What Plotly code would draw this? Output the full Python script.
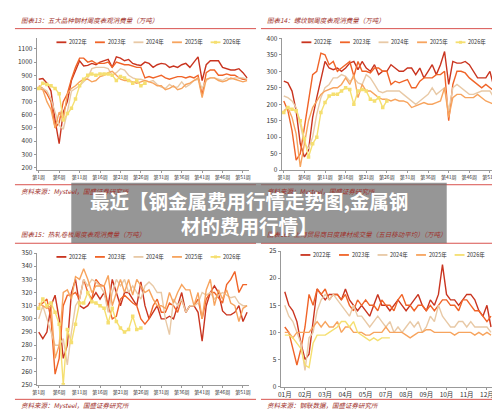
import plotly.graph_objects as go

years = ["2022年", "2023年", "2024年", "2025年", "2026年"]
colors = ["#c9341f", "#f06428", "#e8c9a6", "#f7a45e", "#f5df70"]

weeks = list(range(1, 53))
week_ticks = [1, 6, 11, 16, 21, 26, 31, 36, 41, 46, 51]
week_labels = ["第%d周" % w for w in week_ticks]

# 图表13 五大品种
p13 = [
    [870, 875, 840, 780, 560, 380, 620, 700, 860, 940, 1010, 970, 975, 990, 980, 1000, 1010, 1020, 960, 1040, 1030, 1010, 1020, 990, 980, 975, 1000, 990, 960, 980, 990, 985, 960, 970, 960, 980, 990, 960, 1000, 1040, 860, 980, 1010, 1010, 1010, 960, 950, 940, 940, 950, 920, 880],
    [820, 800, 760, 700, 500, 540, 700, 760, 870, 960, 1030, 1030, 1000, 1010, 990, 990, 990, 1000, 960, 1000, 990, 980, 980, 970, 960, 960, 880, 890, 880, 890, 900, 880, 870, 880, 890, 890, 880, 890, 880, 900, 750, 920, 940, 940, 900, 900, 910, 900, 900, 880, 870, 870],
    [810, 800, 780, 720, 620, 520, 490, 620, 780, 800, 820, 850, 880, 950, 960, 960, 960, 950, 900, 920, 950, 940, 900, 880, 870, 870, 860, 850, 860, 830, 810, 800, 830, 810, 810, 850, 810, 830, 860, 870, 800, 860, 880, 880, 870, 860, 880, 870, 880, 880, 880, 870],
    [800, 790, 700, 640, 500, 620, 560, 760, 800, 820, 850, 870, 870, 850, 860, 890, 900, 920, 930, 900, 870, 860, 860, 850, 840, 850, 860, 850, 840, 820, 820, 790, 800, 820, 790, 800, 830, 840, 860, 880, 730, 870, 880, 880, 860, 850, 860, 880, 870, 860, 850, 860],
    [800, 840, 830, 820, 800, 760, 560, 610, 650, 720, 820, 870, 900, 910, 900, 910, 910, 910, 900, 860, 890, 880, 860, 840, 860, 820, 840],
]

# 图表14 螺纹钢
p14 = [
    [270, 265, 240, 180, 80, 40, 60, 160, 220, 280, 330, 310, 305, 310, 300, 310, 325, 330, 305, 330, 310, 300, 320, 290, 300, 300, 320, 310, 300, 300, 310, 310, 290, 310, 280, 300, 320, 290, 320, 360, 260, 330, 325, 325, 330, 320, 300, 280, 280, 280, 300, 250],
    [210, 180, 120, 30, 50, 130, 200, 290, 300, 355, 350, 320, 330, 300, 310, 320, 330, 285, 330, 300, 300, 295, 310, 310, 300, 300, 260, 270, 265, 270, 275, 250, 250, 270, 280, 280, 280, 290, 290, 300, 150, 260, 300, 300, 295, 280, 270, 260, 250, 260, 250, 240],
    [225, 220, 210, 190, 140, 80, 65, 100, 170, 220, 250, 260, 280, 280, 290, 285, 270, 280, 265, 260, 290, 280, 260, 240, 235, 240, 240, 240, 240, 230, 220, 210, 200, 210, 220, 230, 250, 230, 240, 250, 180, 250, 260, 250, 240, 230, 230, 235, 240, 240, 240, 220],
    [180, 190, 160, 110, 10, 80, 150, 190, 210, 230, 240, 245, 250, 250, 260, 280, 260, 290, 220, 260, 240, 240, 230, 220, 215, 215, 210, 215, 210, 210, 205, 190, 195, 200, 205, 200, 200, 205, 210, 250, 160, 220, 230, 230, 220, 220, 220, 230, 220, 210, 205, 200],
    [175, 190, 185, 180, 150, 95, 40, 80, 100, 175, 205, 225, 230, 230, 240, 250, 245, 200, 240, 245, 240, 215, 210, 220, 190, 210],
]

# 图表15 热轧卷板
p15 = [
    [290, 285, 290, 310, 318, 300, 270, 280, 320, 330, 310, 308, 310, 315, 320, 315, 320, 310, 330, 320, 310, 320, 320, 315, 310, 328, 310, 300, 305, 310, 300, 300, 302, 300, 310, 320, 305, 310, 310, 305, 283, 310, 320, 325, 320, 306, 303, 303, 305, 310, 298, 305],
    [310, 312, 315, 300, 258, 270, 310, 318, 318, 320, 315, 330, 320, 315, 330, 326, 325, 310, 300, 302, 315, 318, 315, 312, 310, 300, 296, 300, 310, 315, 305, 305, 312, 310, 305, 315, 305, 310, 310, 315, 300, 315, 320, 320, 316, 312, 326, 330, 336, 320, 326, 326],
    [300, 310, 300, 290, 280, 280, 285, 265, 290, 310, 315, 330, 325, 330, 328, 325, 320, 305, 320, 330, 325, 330, 320, 325, 320, 315, 325, 328, 325, 320, 320, 300, 288, 315, 310, 315, 305, 310, 310, 312, 320, 318, 320, 315, 318, 320, 318, 316, 317, 312, 310, 310],
    [312, 310, 308, 310, 270, 280, 320, 322, 315, 332, 330, 338, 330, 320, 325, 325, 325, 333, 310, 320, 330, 320, 330, 318, 330, 325, 320, 322, 315, 310, 310, 308, 320, 312, 320, 326, 322, 322, 310, 320, 300, 322, 330, 310, 322, 315, 322, 312, 310, 298, 308, 310],
    [308, 315, 310, 312, 305, 296, 250, 292, 282, 296, 312, 312, 320, 313, 312, 310, 308, 297, 308, 298, 293, 290, 292, 302, 292, 293],
]

# 图表16 上海贸易商建材成交量（周采样）
p16 = [
    [17.5, 15, 14, 12, 8, 5, 6, 12, 18, 17, 16, 17, 17, 17, 16, 18, 16, 15, 14, 15, 14, 13, 15, 17, 15, 15, 14, 15, 16, 15, 14, 15, 16, 17, 15, 14, 16, 15, 17, 22.5, 17, 16, 16, 15, 16, 17, 17, 16, 14, 13, 15, 11],
    [11, 10, 7, 4, 7, 11, 17, 15, 18, 17, 18, 16, 17, 17, 16, 17, 15, 14, 16, 15, 16, 15, 15, 14, 16, 15, 15, 14, 16, 17, 15, 15, 14, 15, 15, 14, 15, 14, 15, 16, 16, 15, 15, 14, 16, 16, 15, 14, 14, 13, 12, 13],
    [15, 13, 12, 10, 8, 3, 9, 10, 14, 16, 17, 16, 17, 16, 15, 14, 13, 15, 13, 13, 12, 11, 12, 13, 12, 11, 12, 10, 11, 10, 11, 12, 11, 12, 10, 11, 13, 12, 15, 13, 12, 11, 11, 12, 12, 11, 12, 11, 11, 11, 11, 10],
    [10, 10, 9, 10, 10, 10, 10, 11, 12, 11, 12, 11, 11, 12, 10, 11, 11, 10, 10, 10, 9.5, 9.5, 10, 10, 10, 11, 10, 10, 10, 10, 9.5, 9, 9.5, 10, 10, 10.5, 10.5, 10, 10, 10, 10, 10, 9.5, 10, 10, 10, 10, 9.5, 10, 9.5, 10, 9.5],
    [9.5, 9.5, 9, 8, 7, 4, 3.5, 8, 9.5, 9.5, 9.5, 10, 10.5, 11, 12, 12, 11, 12, 10, 9.5, 9, 8.5, 9, 8.5, 9, 9, 9],
]
month_labels = ["01月", "02月", "03月", "04月", "05月", "07月", "08月", "09月", "10月", "11月", "12月"]
month_ticks = [i * 5 for i in range(11)]

titles = ["图表13：五大品种钢材周度表观消费量（万吨）", "图表14：螺纹钢周度表观消费量（万吨）",
          "图表15：热轧卷板周度表观消费量（万吨）", "图表16：上海贸易商日度建材成交量（五日移动平均）（万吨）"]
sources = ["资料来源：Mysteel，国盛证券研究所", "资料来源：Mysteel，国盛证券研究所",
           "资料来源：Mysteel，国盛证券研究所", "资料来源：钢联数据，国盛证券研究所"]

W, H = 500, 409
# plot areas in pixels: x0, x1, ytop, ybottom
boxes = [(25, 240, 25, 160), (273, 490, 25, 160), (25, 240, 245, 380), (272, 493, 243, 382)]

fig = go.Figure()
panels = [p13, p14, p15, p16]
yranges = [[180, 1180], [0, 400], [250, 350], [0, 25]]
ydticks = [100, 50, 10, 5]

for k, data in enumerate(panels):
    ax = "" if k == 0 else str(k + 1)
    for j, vals in enumerate(data):
        xs = list(range(len(vals))) if k == 3 else weeks[:len(vals)]
        is26 = (j == 4 and k < 3)
        fig.add_trace(go.Scatter(
            x=xs, y=vals, name=years[j], mode="lines+markers" if is26 else "lines", showlegend=False,
            line=dict(color=colors[j], width=1.4), marker=dict(symbol="square", size=3.5, color=colors[j]),
            xaxis="x" + ax, yaxis="y" + ax))

layout = dict(width=W, height=H, margin=dict(l=0, r=0, t=0, b=0), plot_bgcolor="white",
              paper_bgcolor="white", font=dict(family="Noto Sans CJK SC", size=7, color="#333"))
shapes = []
annotations = []
for k, (x0, x1, yt, yb) in enumerate(boxes):
    ax = "" if k == 0 else str(k + 1)
    xd = [x0 / W, x1 / W]
    yd = [1 - yb / H, 1 - yt / H]
    if k == 3:
        xa = dict(tickvals=month_ticks, ticktext=month_labels, range=[-1, 53], tickfont=dict(size=6.5))
    else:
        xa = dict(tickvals=week_ticks, ticktext=week_labels, range=[0.5, 52.5], tickfont=dict(size=5))
    xa.update(domain=xd, anchor="y" + ax, showline=True, linecolor="#999", ticks="outside",
              ticklen=2, tickcolor="#999", showgrid=False, zeroline=False, tickangle=0)
    layout["xaxis" + ax] = xa
    layout["yaxis" + ax] = dict(domain=yd, anchor="x" + ax, range=yranges[k], dtick=ydticks[k],
                                showline=True, linecolor="#999", ticks="outside", ticklen=2,
                                tickcolor="#999", showgrid=False, zeroline=False, tickfont=dict(size=6.5))
    # legend drawn by hand
    ly = 1 - (yt + 4) / H
    for j in range(5):
        lx = x0 + 20 + j * 39
        shapes.append(dict(type="line", xref="paper", yref="paper", x0=lx / W, x1=(lx + 10) / W,
                           y0=ly, y1=ly, line=dict(color=colors[j], width=1.8)))
        if j == 4 and k < 3:
            shapes.append(dict(type="rect", xref="paper", yref="paper", x0=(lx + 3.5) / W, x1=(lx + 6.5) / W,
                               y0=ly - 1.5 / H, y1=ly + 1.5 / H, fillcolor=colors[j], line=dict(width=0)))
        annotations.append(dict(text=years[j], x=(lx + 11) / W, y=ly, xref="paper", yref="paper",
                                xanchor="left", yanchor="middle", showarrow=False, font=dict(size=5.5)))
    px0 = 3 if k in (0, 2) else 252
    px1 = 247 if k in (0, 2) else 498
    ttop = 6 if k < 2 else 226
    annotations.append(dict(text="<i>" + titles[k] + "</i>", x=(px0 + 4) / W, y=1 - ttop / H,
                            xref="paper", yref="paper", xanchor="left", yanchor="middle", showarrow=False,
                            font=dict(size=6.5, color="#a0302a")))
    annotations.append(dict(text="<i>" + sources[k] + "</i>", x=(px0 + 4) / W, y=1 - (ttop + 175) / H,
                            xref="paper", yref="paper", xanchor="left", yanchor="middle", showarrow=False,
                            font=dict(size=6.5, color="#a0302a")))
    for yy in (ttop + 9, ttop + 169):
        shapes.append(dict(type="line", xref="paper", yref="paper", x0=px0 / W, x1=px1 / W,
                           y0=1 - yy / H, y1=1 - yy / H, line=dict(color="#d9534f", width=1)))

# banner
shapes.append(dict(type="rect", xref="paper", yref="paper", x0=60 / W, x1=440 / W, y0=1 - 235 / H,
                   y1=1 - 173 / H, fillcolor="rgba(110,110,110,0.72)", line=dict(width=0)))
annotations.append(dict(text="<b>最近【钢金属费用行情走势图,金属钢<br>材的费用行情】</b>", x=240 / W, y=1 - 204 / H,
                        xref="paper", yref="paper", showarrow=False, align="center",
                        font=dict(size=19.5, color="white", family="Noto Sans CJK SC")))
layout["shapes"] = shapes
layout["annotations"] = annotations
fig.update_layout(**layout)
fig.write_html("out.html")
